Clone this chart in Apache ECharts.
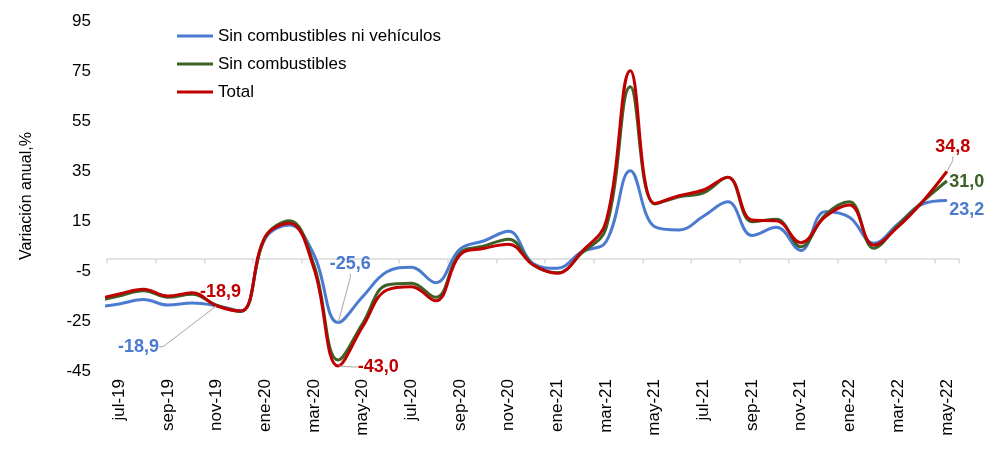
<!DOCTYPE html>
<html>
<head>
<meta charset="utf-8">
<script src="https://cdn.jsdelivr.net/npm/echarts@6/dist/echarts.min.js"></script>
<style>
html, body { margin: 0; padding: 0; background: #fff; }
#chart { width: 1002px; height: 452px; }
</style>
</head>
<body>
<div id="chart"></div>
<script>
// monthly series, jun-19 is only partly visible at the left edge
var months = ['jun-19', 'jul-19', 'ago-19', 'sep-19', 'oct-19', 'nov-19', 'dic-19',
    'ene-20', 'feb-20', 'mar-20', 'abr-20', 'may-20', 'jun-20', 'jul-20', 'ago-20', 'sep-20', 'oct-20', 'nov-20', 'dic-20',
    'ene-21', 'feb-21', 'mar-21', 'abr-21', 'may-21', 'jun-21', 'jul-21', 'ago-21', 'sep-21', 'oct-21', 'nov-21', 'dic-21',
    'ene-22', 'feb-22', 'mar-22', 'abr-22', 'may-22'];

var sinCombNiVeh = [-19.5, -18.2, -16.4, -18.6, -17.8, -18.9, -21.0,
    8.0, 13.4, 1.5, -25.6, -15.3, -5.3, -3.5, -9.7, 3.7, 7.1, 10.9, -2.0,
    -3.9, 2.7, 6.7, 35.1, 12.7, 11.4, 16.9, 22.7, 9.2, 12.5, 3.2, 18.7,
    16.5, 6.1, 13.8, 21.8, 23.2];

var sinComb = [-17.3, -15.0, -12.9, -15.5, -14.3, -18.7, -21.2,
    8.5, 15.1, -2.6, -40.6, -26.0, -10.6, -9.9, -15.5, 2.1, 5.0, 7.7, -2.5,
    -5.7, 2.1, 12.1, 68.7, 21.8, 24.7, 26.3, 32.5, 14.7, 15.7, 4.7, 17.4,
    22.7, 4.1, 13.4, 22.7, 31.0];

var total = [-16.5, -14.2, -12.3, -15.0, -13.7, -18.9, -21.0,
    8.7, 14.1, -3.9, -43.0, -27.3, -12.6, -11.3, -16.9, 1.4, 4.1, 5.7, -2.5,
    -5.9, 2.7, 14.7, 75.1, 22.0, 25.1, 27.4, 32.5, 15.4, 15.1, 6.3, 16.7,
    21.4, 5.4, 12.7, 22.7, 34.8];

var names = ['Sin combustibles ni vehículos', 'Sin combustibles', 'Total'];
var colors = ['#4a7bd0', '#3d6127', '#c00000'];

// labelled points: series, month, shift of the label
var notes = [
    {s: 0, m: 'nov-19', dx: -78, dy: 41, guide: true},
    {s: 2, m: 'nov-19', dx: 4, dy: -14, guide: false},
    {s: 0, m: 'abr-20', dx: 12, dy: -58, guide: true},
    {s: 2, m: 'abr-20', dx: 40, dy: 1, guide: true},
    {s: 2, m: 'may-22', dx: 6, dy: -24, guide: true},
    {s: 1, m: 'may-22', dx: 20, dy: 1, guide: false},
    {s: 0, m: 'may-22', dx: 20, dy: 10, guide: false}
];

var FONT = "'Liberation Sans', Arial, sans-serif";

function fmt(v) {
    return v.toFixed(1).replace('.', ',');
}

function findNote(s, idx) {
    for (var i = 0; i < notes.length; i++) {
        if (notes[i].s === s && months.indexOf(notes[i].m) === idx) return notes[i];
    }
    return null;
}

function buildData(values, s) {
    return values.map(function (v, k) {
        var item = {value: [k - 1, v]};
        var n = findNote(s, k);
        if (n) {
            item.label = {
                show: true,
                position: 'inside',
                color: colors[s],
                fontSize: 18,
                fontWeight: 'bold',
                fontFamily: FONT,
                formatter: function (p) { return fmt(p.value[1]); }
            };
            item.labelLine = {
                show: n.guide,
                length2: 4,
                lineStyle: {color: '#a6a6a6', width: 1}
            };
        }
        return item;
    });
}

function makeSeries(values, s) {
    return {
        name: names[s],
        type: 'line',
        xAxisIndex: 0,
        smooth: 0.4,
        symbol: 'circle',
        symbolSize: 1,
        showSymbol: true,
        clip: true,
        lineStyle: {width: 3, color: colors[s]},
        itemStyle: {color: colors[s]},
        label: {show: false},
        labelLine: {show: false},
        labelLayout: function (p) {
            var n = findNote(s, p.dataIndex);
            return n ? {dx: n.dx, dy: n.dy} : {};
        },
        emphasis: {disabled: true},
        data: buildData(values, s)
    };
}

var chart = echarts.init(document.getElementById('chart'));

var shown = months.slice(1);

var option = {
    animation: false,
    backgroundColor: '#fff',
    textStyle: {fontFamily: FONT},
    grid: {left: 107, right: 43, top: 21, bottom: 81},
    legend: {
        orient: 'vertical',
        left: 172,
        top: 21,
        icon: 'rect',
        itemWidth: 36,
        itemHeight: 3,
        itemGap: 8,
        data: names,
        textStyle: {fontSize: 17, lineHeight: 20, color: '#000', fontFamily: FONT}
    },
    xAxis: [{
        type: 'value',
        show: false,
        position: 'top',
        min: -0.5,
        max: 34.5,
        axisLine: {onZero: false}
    }, {
        type: 'category',
        position: 'bottom',
        data: shown,
        boundaryGap: true,
        axisLine: {onZero: true, lineStyle: {color: '#d9d9d9', width: 1.5}},
        axisTick: {show: true, interval: 1, length: 5, lineStyle: {color: '#d9d9d9', width: 1.5}},
        axisLabel: {show: false},
        splitLine: {show: false}
    }, {
        type: 'category',
        position: 'bottom',
        data: shown,
        boundaryGap: true,
        axisLine: {show: false, onZero: false},
        axisTick: {show: false},
        axisLabel: {
            interval: 1,
            rotate: 90,
            margin: 8,
            fontSize: 17,
            color: '#000',
            fontFamily: FONT
        },
        splitLine: {show: false}
    }],
    yAxis: {
        type: 'value',
        min: -45,
        max: 95,
        interval: 20,
        name: 'Variación anual,%',
        nameLocation: 'middle',
        nameGap: 72,
        nameTextStyle: {fontSize: 16, color: '#000', fontFamily: FONT},
        axisLine: {show: false},
        axisTick: {show: false},
        splitLine: {show: false},
        axisLabel: {fontSize: 17, color: '#000', margin: 16, fontFamily: FONT}
    },
    series: [
        makeSeries(sinCombNiVeh, 0),
        makeSeries(sinComb, 1),
        makeSeries(total, 2)
    ]
};

chart.setOption(option);
</script>
</body>
</html>
